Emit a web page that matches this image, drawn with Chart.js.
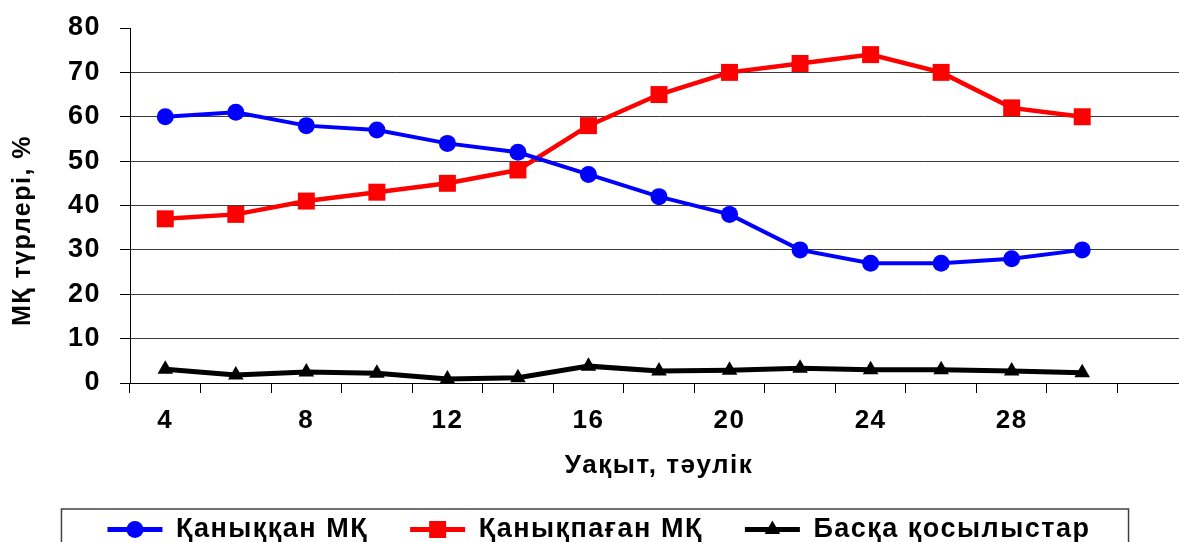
<!DOCTYPE html>
<html lang="kk">
<head>
<meta charset="UTF-8">
<title>МҚ түрлері</title>
<script src="https://cdn.jsdelivr.net/npm/chart.js"></script>
<style>
  html, body { margin: 0; padding: 0; overflow: hidden; background: #fff; }
  #wrap { width: 1200px; height: 553px; }
</style>
</head>
<body>
<div id="wrap"><canvas id="chart" width="1200" height="553"></canvas></div>
<script>
  // тәулік (last slot is an empty category, as in the original)
  const days = ['4', '6', '8', '10', '12', '14', '16', '18', '20', '22', '24', '26', '28', '30', ''];
  const saturated = [60, 61, 58, 57, 54, 52, 47, 42, 38, 30, 27, 27, 28, 30];
  const unsaturated = [37, 38, 41, 43, 45, 48, 58, 65, 70, 72, 74, 70, 62, 60];
  const other = [3.1, 1.8, 2.5, 2.2, 0.9, 1.2, 3.8, 2.7, 2.9, 3.3, 3.0, 3.0, 2.7, 2.3];
  const seriesNames = ['Қаныққан МҚ', 'Қанықпаған МҚ', 'Басқа қосылыстар'];

  const FONT = "'Liberation Sans', Arial, sans-serif";
  const SPACING = '1.5px'; // the original text is set a bit wider than plain Arial

  function marker(ctx, style, x, y, r, color) {
    ctx.fillStyle = color;
    ctx.beginPath();
    if (style === 'circle') {
      ctx.arc(x, y, r, 0, Math.PI * 2);
    } else if (style === 'rect') {
      const s = r * Math.SQRT1_2;
      ctx.rect(x - s, y - s, 2 * s, 2 * s);
    } else {
      ctx.moveTo(x, y - r);
      ctx.lineTo(x + r * 0.866, y + r / 2);
      ctx.lineTo(x - r * 0.866, y + r / 2);
      ctx.closePath();
    }
    ctx.fill();
  }

  const spacing = {
    id: 'spacing',
    beforeLayout(chart) { chart.ctx.letterSpacing = SPACING; },
    beforeDraw(chart) { chart.ctx.letterSpacing = SPACING; }
  };

  const extras = {
    id: 'extras',
    afterDraw(chart) {
      const ctx = chart.ctx;
      const area = chart.chartArea;
      const lg = chart.legend;
      const hb = lg.legendHitBoxes;
      ctx.save();

      // legend frame
      const first = hb[0], last = hb[hb.length - 1];
      ctx.strokeStyle = '#404040';
      ctx.lineWidth = 1.5;
      ctx.strokeRect(first.left - 46, first.top - 7, last.left + last.width - first.left + 84, 80);

      // markers on the legend lines
      chart.data.datasets.forEach((ds, i) => {
        const b = hb[i];
        marker(ctx, ds.pointStyle, b.left + lg.options.labels.boxWidth / 2, b.top + b.height / 2, ds.pointRadius, ds.borderColor);
      });

      // y axis title
      ctx.translate(23, (area.top + area.bottom) / 2 + 25);
      ctx.rotate(-Math.PI / 2);
      ctx.fillStyle = '#000';
      ctx.font = 'bold 25px ' + FONT;
      ctx.letterSpacing = SPACING;
      ctx.textAlign = 'center';
      ctx.textBaseline = 'middle';
      ctx.fillText('МҚ түрлері, %', 0, 0);
      ctx.restore();
    }
  };

  new Chart(document.getElementById('chart'), {
    type: 'line',
    data: {
      labels: days,
      datasets: [
        {
          label: seriesNames[0],
          data: saturated,
          borderColor: '#0000FF',
          backgroundColor: '#0000FF',
          borderWidth: 4,
          pointStyle: 'circle',
          pointRadius: 8.5,
          pointBorderWidth: 0
        },
        {
          label: seriesNames[1],
          data: unsaturated,
          borderColor: '#FF0000',
          backgroundColor: '#FF0000',
          borderWidth: 4.5,
          pointStyle: 'rect',
          pointRadius: 12,
          pointBorderWidth: 0
        },
        {
          label: seriesNames[2],
          data: other,
          borderColor: '#000000',
          backgroundColor: '#000000',
          borderWidth: 5,
          pointStyle: 'triangle',
          pointRadius: 9,
          pointBorderWidth: 0
        }
      ]
    },
    options: {
      responsive: false,
      animation: false,
      devicePixelRatio: 1,
      layout: { padding: { left: 0, top: 28, right: 2, bottom: 0 } },
      plugins: {
        tooltip: { enabled: false },
        legend: {
          position: 'bottom',
          labels: {
            color: '#000',
            font: { family: FONT, size: 27, weight: 'bold' },
            boxWidth: 55,
            boxHeight: 5,
            padding: 42,
            generateLabels(chart) {
              return Chart.defaults.plugins.legend.labels.generateLabels(chart).map(l => {
                l.lineWidth = 0;
                return l;
              });
            }
          }
        }
      },
      scales: {
        x: {
          offset: true,
          afterFit(s) { s.height = 91; },
          border: { color: '#000', width: 1 },
          grid: { offset: true, drawOnChartArea: false, color: '#000', tickLength: 10 },
          ticks: {
            autoSkip: false,
            maxRotation: 0,
            padding: 12,
            color: '#000',
            font: { family: FONT, size: 26, weight: 'bold' },
            callback(v, i) { return i % 2 === 0 ? days[i] : ''; }
          },
          title: {
            display: true,
            text: 'Уақыт, тәулік',
            color: '#000',
            font: { family: FONT, size: 26, weight: 'bold' },
            padding: { top: 0, bottom: -7 }
          }
        },
        y: {
          min: 0,
          max: 80,
          afterFit(s) { s.width = 130; s.paddingTop = 0; s.paddingBottom = 0; },
          border: { color: '#000', width: 1 },
          grid: {
            color: c => (c.tick && c.tick.value === 80 ? 'rgba(0,0,0,0)' : '#3a3a3a'),
            tickColor: '#000',
            tickLength: 10,
            lineWidth: 1
          },
          ticks: {
            stepSize: 10,
            padding: 19,
            color: '#000',
            font: { family: FONT, size: 27, weight: 'bold' }
          }
        }
      }
    },
    plugins: [spacing, extras]
  });
</script>
</body>
</html>
